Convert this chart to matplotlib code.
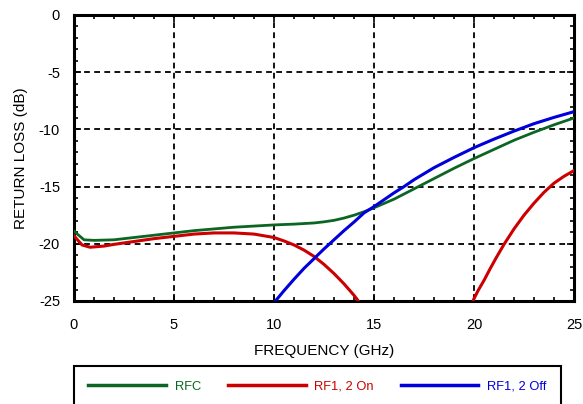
import numpy as np
import matplotlib
matplotlib.use("Agg")
import matplotlib.pyplot as plt
from matplotlib.lines import Line2D

plt.rcParams['font.family'] = ['Liberation Sans', 'DejaVu Sans']
plt.rcParams['axes.unicode_minus'] = False

# values (GHz, dB)
rfc_f = [0, 0.5, 1, 2, 3, 4, 5, 6, 7, 8, 9, 10, 11, 12, 12.5, 13, 13.5, 14,
         14.5, 15, 16, 17, 18, 19, 20, 21, 22, 23, 24, 25]
rfc_db = [-18.9, -19.65, -19.7, -19.65, -19.45, -19.25, -19.05, -18.85, -18.7,
          -18.55, -18.45, -18.35, -18.28, -18.18, -18.08, -17.95, -17.75,
          -17.5, -17.2, -16.85, -16.1, -15.2, -14.3, -13.4, -12.55, -11.75,
          -10.95, -10.25, -9.6, -9.0]

on_f1 = [0, 0.4, 0.8, 1.5, 2, 3, 4, 5, 6, 7, 8, 9, 10, 10.5, 11, 11.5, 12,
         12.5, 13, 13.5, 14, 14.3]
on_db1 = [-19.3, -20.1, -20.3, -20.2, -20.05, -19.8, -19.55, -19.35, -19.15,
          -19.05, -19.05, -19.15, -19.45, -19.75, -20.1, -20.55, -21.1, -21.8,
          -22.6, -23.5, -24.5, -25.2]
on_f2 = [19.9, 20.2, 20.5, 20.8, 21.1, 21.5, 22, 22.5, 23, 23.5, 24, 24.5, 25]
on_db2 = [-25.15, -24.1, -23.2, -22.2, -21.25, -20.05, -18.7, -17.5, -16.45,
          -15.5, -14.7, -14.1, -13.6]

off_f = [10.0, 10.5, 11, 11.5, 12, 12.5, 13, 13.5, 14, 14.5, 15, 15.5, 16,
         16.5, 17, 18, 19, 20, 21, 22, 23, 24, 25]
off_db = [-25.15, -24.1, -23.1, -22.15, -21.3, -20.45, -19.65, -18.85, -18.1,
          -17.3, -16.75, -16.15, -15.55, -15.0, -14.4, -13.35, -12.45, -11.6,
          -10.85, -10.15, -9.5, -8.95, -8.45]

green = '#0b6623'
red = '#cc0000'
blue = '#0000dd'

fig = plt.figure(figsize=(5.83, 4.04), dpi=100)
ax = fig.add_axes([74/583, 1-301/404, (574-74)/583, (301-15)/404])

ax.plot(rfc_f, rfc_db, color=green, lw=2.0, zorder=3)
ax.plot(on_f1, on_db1, color=red, lw=2.2, zorder=3)
ax.plot(on_f2, on_db2, color=red, lw=2.2, zorder=3)
ax.plot(off_f, off_db, color=blue, lw=2.2, zorder=4)

ax.set_xlim(0, 25)
ax.set_ylim(-25, 0)
ax.set_xticks(np.arange(0, 26, 5))
ax.set_yticks(np.arange(-25, 1, 5))
ax.set_xticks(np.arange(0, 26, 1), minor=True)
ax.set_yticks(np.arange(-25, 1, 1), minor=True)
ax.tick_params(which='both', direction='in', top=True, right=True, width=1.2)
ax.tick_params(which='major', length=5, labelsize=10.5)
ax.tick_params(axis='x', which='major', pad=12)
ax.tick_params(axis='y', which='major', pad=10)
ax.tick_params(which='minor', length=3)
ax.grid(True, which='major', color='black', linestyle=(0, (3.2, 2.4)), linewidth=1.3)
for s in ax.spines.values():
    s.set_linewidth(2.2)

ax.set_xlabel('FREQUENCY (GHz)', fontsize=11, labelpad=9)
ax.set_ylabel('RETURN LOSS (dB)', fontsize=11, labelpad=8)

handles = [Line2D([], [], color=green, lw=2.5),
           Line2D([], [], color=red, lw=2.5),
           Line2D([], [], color=blue, lw=2.5)]
leg = fig.legend(handles, ['RFC', 'RF1, 2 On', 'RF1, 2 Off'],
                 loc='upper left', bbox_to_anchor=(73.5/583, 1-366/404),
                 ncol=3, fancybox=False, edgecolor='black', framealpha=1,
                 borderpad=1.15, handlelength=6.0, handletextpad=0.68,
                 columnspacing=2.1, fontsize=9.3, borderaxespad=0)
leg.get_frame().set_linewidth(1.5)
for txt, c in zip(leg.get_texts(), [green, red, blue]):
    txt.set_color(c)

fig.savefig('out.png', dpi=100)
